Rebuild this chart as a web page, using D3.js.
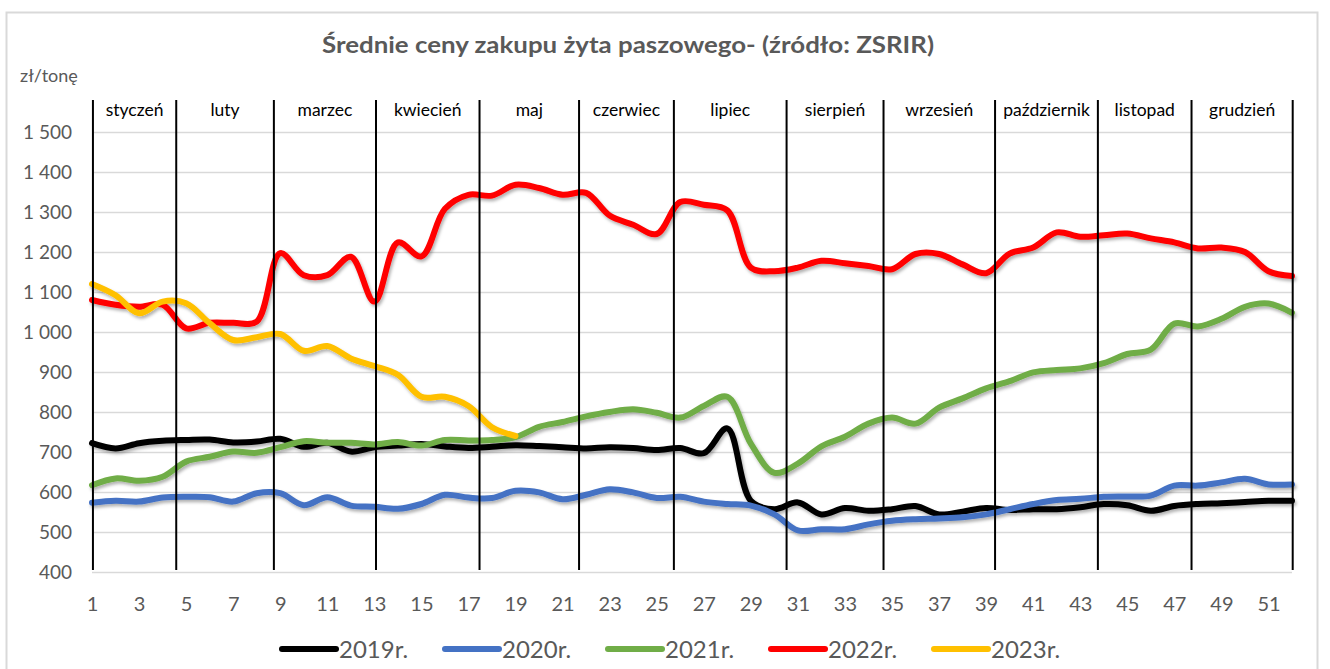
<!DOCTYPE html>
<html>
<head>
<meta charset="utf-8">
<script src="https://cdn.jsdelivr.net/npm/d3@7"></script>
<style>
  body { margin: 0; background: #fff; }
  svg { display: block; }
  text { font-family: Lato, "Open Sans", sans-serif; }
</style>
</head>
<body>
<svg id="chart" width="1330" height="669"></svg>
<script>
// week numbers on the category axis
var weeks = [1, 2, 3, 4, 5, 6, 7, 8, 9, 10, 11, 12, 13, 14, 15, 16, 17, 18, 19, 20, 21, 22, 23, 24, 25, 26,
  27, 28, 29, 30, 31, 32, 33, 34, 35, 36, 37, 38, 39, 40, 41, 42, 43, 44, 45, 46, 47, 48, 49, 50, 51, 52];
var xTickWeeks = [1, 3, 5, 7, 9, 11, 13, 15, 17, 19, 21, 23, 25, 27, 29, 31, 33, 35, 37, 39, 41, 43, 45, 47, 49, 51];
var yTicks = [400, 500, 600, 700, 800, 900, 1000, 1100, 1200, 1300, 1400, 1500];

var months = ["styczeń", "luty", "marzec", "kwiecień", "maj", "czerwiec", "lipiec",
  "sierpień", "wrzesień", "październik", "listopad", "grudzień"];
// month borders, in weeks
var monthBorders = [1.04, 4.58, 8.73, 13.07, 17.47, 21.7, 25.73, 30.52, 34.64, 39.38, 43.75, 47.73, 52.03];

var years = ["2019r.", "2020r.", "2021r.", "2022r.", "2023r."];

var prices2019 = [722, 709, 722, 728, 730, 731, 724, 726, 733, 713, 723, 701, 712, 716, 720, 714, 710, 713,
  717, 715, 712, 709, 712, 710, 705, 710, 697, 759, 578, 557, 574, 544, 560, 553, 557, 565, 544, 551, 560,
  555, 557, 557, 562, 570, 567, 553, 565, 570, 572, 575, 578, 578];
var prices2020 = [573, 578, 576, 586, 588, 587, 576, 597, 597, 567, 587, 566, 563, 558, 570, 593, 586, 585,
  603, 599, 582, 593, 607, 599, 585, 588, 576, 570, 566, 544, 504, 507, 507, 519, 528, 532, 534, 537, 544,
  557, 570, 580, 583, 588, 589, 591, 616, 616, 624, 633, 619, 619];
var prices2021 = [617, 634, 628, 638, 676, 688, 701, 698, 712, 727, 723, 723, 719, 725, 716, 730, 729, 730,
  737, 763, 775, 789, 800, 807, 798, 786, 815, 838, 721, 648, 671, 714, 738, 771, 786, 771, 811, 834, 859,
  877, 899, 905, 909, 922, 945, 956, 1021, 1014, 1033, 1063, 1071, 1048];
var prices2022 = [1080, 1068, 1063, 1068, 1009, 1023, 1023, 1026, 1197, 1142, 1142, 1188, 1076, 1224, 1189,
  1308, 1343, 1341, 1368, 1360, 1343, 1348, 1291, 1268, 1245, 1325, 1318, 1304, 1161, 1152, 1161, 1178,
  1172, 1165, 1157, 1195, 1195, 1169, 1147, 1196, 1211, 1249, 1238, 1242, 1246, 1234, 1224, 1209, 1211,
  1200, 1152, 1140];
var prices2023 = [1120, 1092, 1047, 1076, 1072, 1022, 980, 987, 995, 953, 965, 934, 915, 893, 838, 838, 815,
  762, 740];

var chart = {

  colors: ["#000000", "#4472c4", "#70ad47", "#ff0000", "#ffc000"],
  grey: "#595959",

  setUp: function(){
    chart.svg = d3.select("#chart");
    chart.x = d3.scaleLinear().domain([1, 52]).range([92, 1292]);
    chart.y = d3.scaleLinear().domain([400, 1500]).range([572, 132]);

    chart.drawFrame();
    chart.drawAxes();
    chart.drawSeries();
    chart.drawMonths();
    chart.drawLegend();
  },

  drawFrame: function(){
    var defs = chart.svg.append("defs");
    defs.append("filter")
      .attr("id", "shadow")
      .attr("x", "-5%").attr("y", "-20%").attr("width", "110%").attr("height", "140%")
      .append("feDropShadow")
        .attr("dx", 1.5).attr("dy", 2.5)
        .attr("stdDeviation", 1.6)
        .attr("flood-color", "#000")
        .attr("flood-opacity", 0.3);

    chart.svg.append("rect")
      .attr("x", 6.5).attr("y", 12.5)
      .attr("width", 1311).attr("height", 680)
      .attr("fill", "none")
      .attr("stroke", "#d9d9d9")
      .attr("stroke-width", 2);

    chart.svg.append("text")
      .attr("x", 322).attr("y", 53)
      .attr("textLength", 612)
      .attr("lengthAdjust", "spacingAndGlyphs")
      .attr("font-size", 22)
      .attr("font-weight", "bold")
      .attr("fill", chart.grey)
      .text("Średnie ceny zakupu żyta paszowego- (źródło: ZSRIR)");

    chart.svg.append("text")
      .attr("x", 20).attr("y", 82)
      .attr("font-size", 18)
      .attr("fill", chart.grey)
      .text("zł/tonę");
  },

  drawAxes: function(){
    var fmt = d3.formatLocale({decimal: ",", thousands: "\u00a0", grouping: [3], currency: ["", " zł"]}).format(",d");

    // horizontal gridlines
    var grid = chart.svg.append("g")
      .attr("transform", "translate(92,0)")
      .call(d3.axisLeft(chart.y).tickValues(yTicks).tickSize(-1200).tickFormat(""));
    grid.select(".domain").remove();
    grid.selectAll("line").attr("stroke", "#d9d9d9").attr("stroke-width", 1.6);

    var yAxis = chart.svg.append("g")
      .attr("transform", "translate(92,0)")
      .call(d3.axisLeft(chart.y).tickValues(yTicks).tickSize(0).tickPadding(20).tickFormat(fmt));
    yAxis.select(".domain").remove();
    yAxis.selectAll("text")
      .attr("font-size", 19)
      .attr("font-family", "Lato, sans-serif")
      .attr("fill", chart.grey);

    var xAxis = chart.svg.append("g")
      .attr("transform", "translate(0,572)")
      .call(d3.axisBottom(chart.x).tickValues(xTickWeeks).tickSize(0).tickPadding(25).tickFormat(d3.format("d")));
    xAxis.select(".domain").remove();
    xAxis.selectAll("text")
      .attr("font-size", 20)
      .attr("font-family", "Lato, sans-serif")
      .attr("fill", chart.grey);
  },

  drawSeries: function(){
    var series = [prices2019, prices2020, prices2021, prices2022, prices2023];
    var line = d3.line()
      .x(function(d, i){ return chart.x(weeks[i]); })
      .y(function(d){ return chart.y(d); })
      .curve(d3.curveCatmullRom.alpha(0.5));

    chart.svg.append("g")
      .attr("filter", "url(#shadow)")
      .selectAll("path")
      .data(series)
      .enter()
      .append("path")
        .attr("d", line)
        .attr("fill", "none")
        .attr("stroke", function(d, i){ return chart.colors[i]; })
        .attr("stroke-width", 6)
        .attr("stroke-linecap", "round")
        .attr("stroke-linejoin", "round");
  },

  drawMonths: function(){
    chart.svg.append("g")
      .selectAll("line")
      .data(monthBorders)
      .enter()
      .append("line")
        .attr("x1", function(d){ return chart.x(d); })
        .attr("x2", function(d){ return chart.x(d); })
        .attr("y1", 100)
        .attr("y2", 570)
        .attr("stroke", "#000")
        .attr("stroke-width", 2);

    chart.svg.append("g")
      .selectAll("text")
      .data(months)
      .enter()
      .append("text")
        .attr("x", function(d, i){ return (chart.x(monthBorders[i]) + chart.x(monthBorders[i + 1])) / 2; })
        .attr("y", 116)
        .attr("text-anchor", "middle")
        .attr("font-size", 17.5)
        .attr("fill", "#000")
        .text(function(d){ return d; });
  },

  drawLegend: function(){
    var item = chart.svg.append("g")
      .selectAll("g")
      .data(years)
      .enter()
      .append("g")
        .attr("transform", function(d, i){ return "translate(" + (282 + i * 163) + ",649)"; });

    item.append("line")
      .attr("x1", 0).attr("x2", 54)
      .attr("stroke", function(d, i){ return chart.colors[i]; })
      .attr("stroke-width", 6)
      .attr("stroke-linecap", "round");

    item.append("text")
      .attr("x", 57).attr("y", 9)
      .attr("font-size", 24)
      .attr("fill", chart.grey)
      .text(function(d){ return d; });
  }
};

chart.setUp();
</script>
</body>
</html>
